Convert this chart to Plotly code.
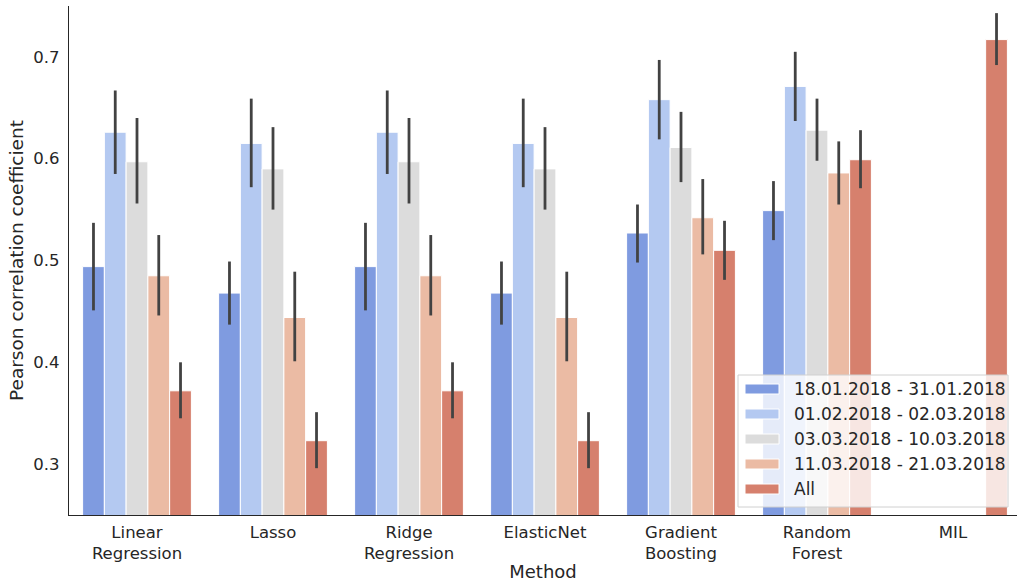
import plotly.graph_objects as go

# Methods compared (x categories) and periods (bar series)
methods = ["Linear<br>Regression", "Lasso", "Ridge<br>Regression", "ElasticNet",
           "Gradient<br>Boosting", "Random<br>Forest", "MIL"]
periods = ["18.01.2018 - 31.01.2018", "01.02.2018 - 02.03.2018",
           "03.03.2018 - 10.03.2018", "11.03.2018 - 21.03.2018", "All"]
colors = ["#7f9be0", "#b4c9f1", "#dcdcdc", "#ebbba4", "#d6806d"]

# Mean Pearson correlation per method, one list per period (None = not evaluated)
p1_mean = [0.494, 0.468, 0.494, 0.468, 0.527, 0.549, None]
p2_mean = [0.626, 0.615, 0.626, 0.615, 0.658, 0.671, None]
p3_mean = [0.597, 0.590, 0.597, 0.590, 0.611, 0.628, None]
p4_mean = [0.485, 0.444, 0.485, 0.444, 0.542, 0.586, None]
all_mean = [0.372, 0.323, 0.372, 0.323, 0.510, 0.599, 0.717]

# Confidence interval bounds
p1_lo = [0.451, 0.437, 0.451, 0.437, 0.498, 0.520, None]
p1_hi = [0.537, 0.499, 0.537, 0.499, 0.555, 0.578, None]
p2_lo = [0.585, 0.572, 0.585, 0.572, 0.619, 0.637, None]
p2_hi = [0.667, 0.659, 0.667, 0.659, 0.697, 0.705, None]
p3_lo = [0.556, 0.550, 0.556, 0.550, 0.577, 0.598, None]
p3_hi = [0.640, 0.631, 0.640, 0.631, 0.646, 0.659, None]
p4_lo = [0.446, 0.401, 0.446, 0.401, 0.506, 0.555, None]
p4_hi = [0.525, 0.489, 0.525, 0.489, 0.580, 0.617, None]
all_lo = [0.345, 0.296, 0.345, 0.296, 0.481, 0.571, 0.692]
all_hi = [0.400, 0.351, 0.400, 0.351, 0.539, 0.628, 0.743]

means = [p1_mean, p2_mean, p3_mean, p4_mean, all_mean]
lows = [p1_lo, p2_lo, p3_lo, p4_lo, all_lo]
highs = [p1_hi, p2_hi, p3_hi, p4_hi, all_hi]

TEXT = "#262626"
FONT = "DejaVu Sans"

fig = go.Figure()
for name, col, m, lo, hi in zip(periods, colors, means, lows, highs):
    up = [None if v is None else h - v for v, h in zip(m, hi)]
    dn = [None if v is None else v - l for v, l in zip(m, lo)]
    fig.add_trace(go.Bar(
        x=methods, y=m, name=name,
        marker=dict(color=col, line=dict(color="white", width=1)),
        error_y=dict(type="data", symmetric=False, array=up, arrayminus=dn,
                     color="#424242", thickness=2.8, width=0),
        showlegend=False,
    ))

# Plot-area geometry in pixels (used for the legend box placement)
W, H = 1017, 585
L, R, T, B = 69, 0, 6, 70
pw, ph = W - L - R, H - T - B


def px(x):
    return (x - L) / pw


def py(y):
    return (H - B - y) / ph


shapes = []
annotations = []
# Legend panel
shapes.append(dict(type="rect", xref="paper", yref="paper",
                   x0=px(738), x1=px(1008), y0=py(507), y1=py(375),
                   fillcolor="rgba(255,255,255,0.8)",
                   line=dict(color="#d0d0d0", width=1), layer="above"))
for i, (name, col) in enumerate(zip(periods, colors)):
    yc = 389 + 25 * i
    shapes.append(dict(type="rect", xref="paper", yref="paper",
                       x0=px(745), x1=px(779), y0=py(yc + 5), y1=py(yc - 5),
                       fillcolor=col, line=dict(color="white", width=1),
                       layer="above"))
    annotations.append(dict(xref="paper", yref="paper", x=px(792), y=py(yc),
                            xanchor="left", yanchor="middle", showarrow=False,
                            text=name, font=dict(family=FONT, size=17, color=TEXT)))

fig.update_layout(
    width=W, height=H,
    margin=dict(l=L, r=R, t=T, b=B),
    paper_bgcolor="white", plot_bgcolor="white",
    barmode="group", bargap=0.2, bargroupgap=0,
    font=dict(family=FONT, color=TEXT, size=16),
    shapes=shapes, annotations=annotations,
    xaxis=dict(
        range=[-0.5, -0.5 + pw / 136.0],
        showgrid=False, zeroline=False,
        showline=True, linecolor="#262626", linewidth=1.3,
        ticks="", ticklabelstandoff=2,
        tickfont=dict(family=FONT, size=16.5, color=TEXT),
        title=dict(text="Method", font=dict(family=FONT, size=18, color=TEXT), standoff=2),
    ),
    yaxis=dict(
        range=[0.25, 0.75],
        tickvals=[0.3, 0.4, 0.5, 0.6, 0.7],
        ticktext=["0.3", "0.4", "0.5", "0.6", "0.7"],
        showgrid=False, zeroline=False,
        showline=True, linecolor="#262626", linewidth=1.3,
        ticks="", ticklabelstandoff=5,
        tickfont=dict(family=FONT, size=16.5, color=TEXT),
        title=dict(text="Pearson correlation coefficient",
                   font=dict(family=FONT, size=18.5, color=TEXT), standoff=4),
    ),
)

fig.write_html("out.html")
